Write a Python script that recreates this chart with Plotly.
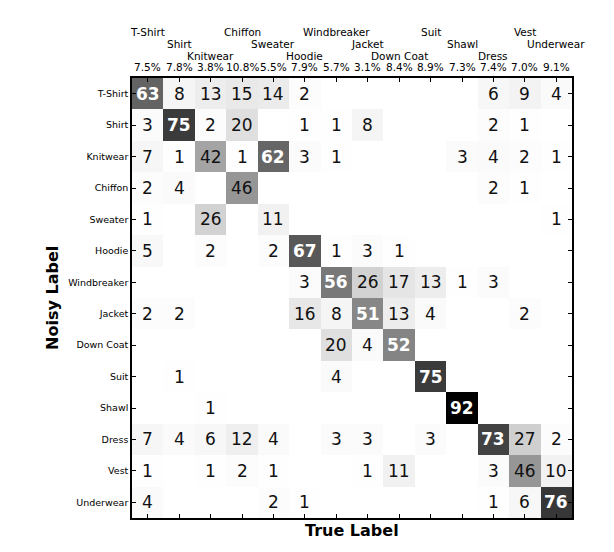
import plotly.graph_objects as go

categories = ["T-Shirt", "Shirt", "Knitwear", "Chiffon", "Sweater", "Hoodie", "Windbreaker",
              "Jacket", "Down Coat", "Suit", "Shawl", "Dress", "Vest", "Underwear"]

percentages = [7.5, 7.8, 3.8, 10.8, 5.5, 7.9, 5.7, 3.1, 8.4, 8.9, 7.3, 7.4, 7.0, 9.1]

# rows = noisy label, columns = true label
row_tshirt = [63, 8, 13, 15, 14, 2, 0, 0, 0, 0, 0, 6, 9, 4]
row_shirt = [3, 75, 2, 20, 0, 1, 1, 8, 0, 0, 0, 2, 1, 0]
row_knitwear = [7, 1, 42, 1, 62, 3, 1, 0, 0, 0, 3, 4, 2, 1]
row_chiffon = [2, 4, 0, 46, 0, 0, 0, 0, 0, 0, 0, 2, 1, 0]
row_sweater = [1, 0, 26, 0, 11, 0, 0, 0, 0, 0, 0, 0, 0, 1]
row_hoodie = [5, 0, 2, 0, 2, 67, 1, 3, 1, 0, 0, 0, 0, 0]
row_windbreaker = [0, 0, 0, 0, 0, 3, 56, 26, 17, 13, 1, 3, 0, 0]
row_jacket = [2, 2, 0, 0, 0, 16, 8, 51, 13, 4, 0, 0, 2, 0]
row_downcoat = [0, 0, 0, 0, 0, 0, 20, 4, 52, 0, 0, 0, 0, 0]
row_suit = [0, 1, 0, 0, 0, 0, 4, 0, 0, 75, 0, 0, 0, 0]
row_shawl = [0, 0, 1, 0, 0, 0, 0, 0, 0, 0, 92, 0, 0, 0]
row_dress = [7, 4, 6, 12, 4, 0, 3, 3, 0, 3, 0, 73, 27, 2]
row_vest = [1, 0, 1, 2, 1, 0, 0, 1, 11, 0, 0, 3, 46, 10]
row_underwear = [4, 0, 0, 0, 2, 1, 0, 0, 0, 0, 0, 1, 6, 76]

matrix = [row_tshirt, row_shirt, row_knitwear, row_chiffon, row_sweater, row_hoodie,
          row_windbreaker, row_jacket, row_downcoat, row_suit, row_shawl, row_dress,
          row_vest, row_underwear]

n = len(categories)
idx = list(range(n))

greys = ["#ffffff", "#f0f0f0", "#d9d9d9", "#bdbdbd", "#969696",
         "#737373", "#525252", "#252525", "#000000"]
colorscale = [[i / (len(greys) - 1), c] for i, c in enumerate(greys)]

FONT = "DejaVu Sans"

fig = go.Figure(go.Heatmap(
    z=matrix, x=idx, y=idx, colorscale=colorscale, zmin=0, zmax=92,
    showscale=False, hoverinfo="skip", xgap=0, ygap=0,
))

annotations = []
for r in range(n):
    for c in range(n):
        v = matrix[r][c]
        if v <= 0:
            continue
        dark = v >= 50
        annotations.append(dict(
            x=c, y=r, xref="x", yref="y", text=f"<b>{v}</b>" if dark else str(v),
            showarrow=False,
            font=dict(family=FONT, size=17, color="white" if dark else "#111111"),
        ))

# staggered top labels
row_y = [1.1045, 1.0773, 1.0511]
for i, name in enumerate(categories):
    annotations.append(dict(
        x=i, y=row_y[i % 3], xref="x", yref="paper", text=name, showarrow=False,
        xanchor="center", yanchor="middle",
        font=dict(family=FONT, size=10.5, color="black"),
    ))
    annotations.append(dict(
        x=i, y=1.0261, xref="x", yref="paper", text=f"{percentages[i]:.1f}%",
        showarrow=False, xanchor="center", yanchor="middle",
        font=dict(family=FONT, size=10.5, color="black"),
    ))

annotations.append(dict(
    x=0.5, y=-0.029, xref="paper", yref="paper", text="<b>True Label</b>",
    showarrow=False, xanchor="center", yanchor="middle",
    font=dict(family=FONT, size=16, color="black"),
))
annotations.append(dict(
    x=-0.182, y=0.5, xref="paper", yref="paper", text="<b>Noisy Label</b>",
    showarrow=False, xanchor="center", yanchor="middle", textangle=-90,
    font=dict(family=FONT, size=16, color="black"),
))

fig.update_layout(
    width=614, height=552,
    margin=dict(l=124, r=50, t=70, b=42),
    paper_bgcolor="white", plot_bgcolor="white",
    annotations=annotations,
    font=dict(family=FONT, color="black"),
)
fig.update_xaxes(
    range=[-0.5, n - 0.5], tickvals=idx, showticklabels=False,
    ticks="inside", ticklen=4, tickcolor="black", tickwidth=1,
    showline=True, linecolor="black", linewidth=1.5, mirror="ticks",
    showgrid=False, zeroline=False, fixedrange=True,
)
fig.update_yaxes(
    range=[n - 0.5, -0.5], tickvals=idx, ticktext=categories,
    ticks="inside", ticklen=4, tickcolor="black", tickwidth=1,
    tickfont=dict(family=FONT, size=9.5, color="black"),
    showline=True, linecolor="black", linewidth=1.5, mirror="ticks",
    showgrid=False, zeroline=False, fixedrange=True,
)

fig.write_html("out.html")
